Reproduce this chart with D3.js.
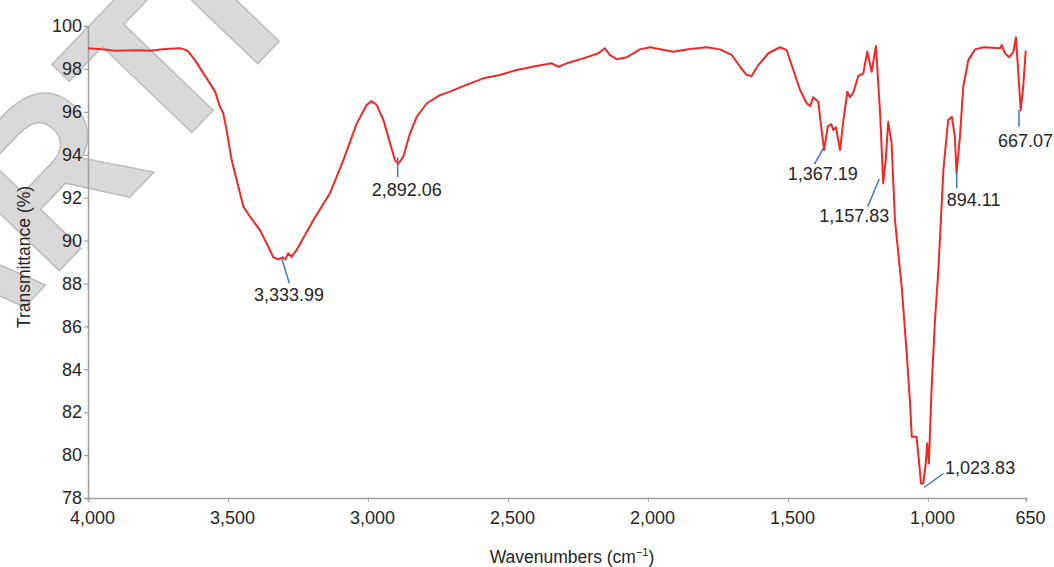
<!DOCTYPE html>
<html>
<head>
<meta charset="utf-8">
<script src="https://cdn.jsdelivr.net/npm/d3@7"></script>
<style>
  html, body { margin: 0; padding: 0; background: #fff; }
  svg { display: block; }
  text { font-family: Arial, "Liberation Sans", sans-serif; }
</style>
</head>
<body>
<svg id="chart" width="1054" height="567"></svg>
<script>
// ---- data ----
const wavenumbers = [4000,3939,3904,3814,3779,3725,3671,3654,3643,3618,3576,3546,3529,3517,3505,3487,3469,3445,3421,3386,3362,3338,3320,3305,3296,3285,3273,3255,3195,3136,3088,3040,3005,2987,2969,2945,2921,2904,2892,2874,2850,2826,2790,2743,2707,2660,2588,2529,2469,2398,2344,2320,2290,2231,2177,2154,2136,2112,2076,2029,1993,1910,1850,1790,1743,1701,1671,1648,1630,1606,1570,1529,1505,1481,1457,1433,1421,1410,1392,1380,1371,1358,1346,1338,1329,1314,1302,1288,1279,1267,1249,1231,1217,1201,1186,1171,1160,1151,1142,1130,1118,1106,1094,1076,1064,1058,1041,1035,1025,1017,1008,1003,997,987,975,963,945,928,915,904,898,886,874,856,832,802,743,737,725,710,695,686,678,669,660,651];
const transmittance = [98.96,98.90,98.85,98.87,98.85,98.93,98.96,98.90,98.83,98.41,97.56,96.94,96.24,95.93,95.15,93.75,92.82,91.58,91.11,90.49,89.87,89.22,89.12,89.22,89.12,89.40,89.24,89.56,90.96,92.20,93.75,95.46,96.32,96.50,96.32,95.62,94.53,93.75,93.57,93.91,95.00,95.77,96.40,96.78,96.94,97.20,97.56,97.72,97.95,98.14,98.26,98.10,98.26,98.49,98.73,98.96,98.65,98.45,98.54,98.91,99.01,98.80,98.93,99.01,98.91,98.65,98.10,97.72,97.67,98.18,98.73,99.01,98.88,97.95,97.02,96.40,96.27,96.68,96.47,95.15,94.22,95.31,95.43,95.15,95.28,94.22,95.62,96.94,96.68,96.89,97.67,97.79,98.80,97.87,99.07,95.93,92.67,93.75,95.54,94.53,90.96,89.40,87.85,84.74,82.41,80.85,80.85,80.08,78.68,78.68,79.61,80.55,79.61,83.18,86.29,88.62,93.29,95.62,95.77,94.84,93.13,94.84,97.17,98.41,98.91,99.01,98.96,99.11,98.73,98.54,98.80,99.47,97.95,96.08,97.17,98.85];

const xTickValues = [4000,3500,3000,2500,2000,1500,1000,650];
const yTickValues = [78,80,82,84,86,88,90,92,94,96,98,100];

const peakLabels = ["3,333.99","2,892.06","1,367.19","1,157.83","894.11","667.07","1,023.83"];
const peakWave   = [3308,2894,1371,1174,897.5,675,1014];
const peakTrans  = [89.17,93.88,94.37,92.87,93.21,96.08,78.49];

const xTitle = "Wavenumbers (cm";
const xTitleSup = "\u22121";
const yTitle = "Transmittance (%)";
const watermark = "ARTICLE";

// ---- layout (pixel offsets for annotation leaders / labels) ----
const leaderEnd = [[7.6,25],[0,20],[-9.7,17.3],[-11.6,27.7],[0,16.6],[0,16.7],[19.3,-14]];
const labelPos  = [[-27.7,42.7],[-26,38.7],[-36.3,33.3],[-60,43],[-10,34.3],[-21,37],[21,-13.3]];

const svg = d3.select("#chart");

// watermark (drawn first, underneath)
svg.append("text")
  .attr("transform", "translate(-58,393) rotate(-46.2)")
  .attr("font-family", "'Liberation Serif', 'Times New Roman', serif")
  .attr("font-weight", "bold")
  .attr("font-size", 215)
  .attr("fill", "#d9d9d9")
  .attr("stroke", "#bdbdbd")
  .attr("stroke-width", 1.5)
  .text(watermark);

const x = d3.scaleLinear().domain([4000, 650]).range([88, 1026]);
const y = d3.scaleLinear().domain([78, 100]).range([498, 26]);

const fmt = d3.format(",");

// x axis
const xAxis = svg.append("g")
  .attr("transform", "translate(0,498)")
  .call(d3.axisBottom(x).tickValues(xTickValues).tickFormat(fmt).tickSizeOuter(0).tickSize(4));
xAxis.select(".domain").attr("stroke", "#a0a0a0").attr("stroke-width", 1.5);
xAxis.selectAll(".tick line").attr("stroke", "#a0a0a0").attr("stroke-width", 1.2);
xAxis.selectAll(".tick text")
  .attr("font-size", 18).attr("fill", "#262626")
  .attr("font-family", "Arial, 'Liberation Sans', sans-serif")
  .attr("dx", 4).attr("y", 26).attr("dy", 0);

// y axis
const yAxis = svg.append("g")
  .attr("transform", "translate(88,0)")
  .call(d3.axisLeft(y).tickValues(yTickValues).tickSizeOuter(0).tickSize(4).tickPadding(2));
yAxis.select(".domain").attr("stroke", "#a0a0a0").attr("stroke-width", 1.5);
yAxis.selectAll(".tick line").attr("stroke", "#a0a0a0").attr("stroke-width", 1.2);
yAxis.selectAll(".tick text")
  .attr("font-size", 18).attr("fill", "#262626")
  .attr("font-family", "Arial, 'Liberation Sans', sans-serif");

// spectrum
const pts = wavenumbers.map((w, i) => [w, transmittance[i]]);
svg.append("path")
  .datum(pts)
  .attr("fill", "none")
  .attr("stroke", "#f02828")
  .attr("stroke-width", 2)
  .attr("stroke-linejoin", "round")
  .attr("d", d3.line().x(d => x(d[0])).y(d => y(d[1])));

// peak annotations
const ann = svg.append("g");
peakLabels.forEach((lab, i) => {
  const px = x(peakWave[i]), py = y(peakTrans[i]);
  ann.append("line")
    .attr("x1", px).attr("y1", py)
    .attr("x2", px + leaderEnd[i][0]).attr("y2", py + leaderEnd[i][1])
    .attr("stroke", "#4472c4").attr("stroke-width", 1.5);
  ann.append("text")
    .attr("x", px + labelPos[i][0]).attr("y", py + labelPos[i][1])
    .attr("font-size", 18).attr("fill", "#262626")
    .text(lab);
});

// axis titles
const xt = svg.append("text")
  .attr("x", 572).attr("y", 563)
  .attr("text-anchor", "middle")
  .attr("font-size", 17.5).attr("fill", "#262626");
xt.append("tspan").text(xTitle);
xt.append("tspan").attr("font-size", 11).attr("dy", -7).text(xTitleSup);
xt.append("tspan").attr("dy", 7).text(")");

svg.append("text")
  .attr("transform", "translate(30,257) rotate(-90)")
  .attr("text-anchor", "middle")
  .attr("font-size", 17.5).attr("fill", "#262626")
  .text(yTitle);
</script>
</body>
</html>
